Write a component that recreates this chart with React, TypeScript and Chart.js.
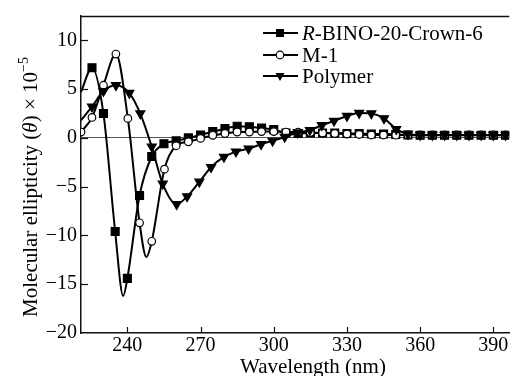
import React, { useEffect, useRef } from 'react';
import { Chart, registerables } from 'chart.js';

Chart.register(...registerables);

// ---- data ----
const xTicks = [240, 270, 300, 330, 360, 390];
const yTicks = [-20, -15, -10, -5, 0, 5, 10];
const yTickLabels = ['\u221220', '\u221215', '\u221210', '\u22125', '0', '5', '10'];
const seriesNames = ['R-BINO-20-Crown-6', 'M-1', 'Polymer'];

const crownWl = [221, 225.5, 230.2, 235, 238.3, 240, 245, 250, 255, 260, 265, 270, 275, 280, 285, 290, 295, 300, 305, 310, 315, 320, 325, 330, 335, 340, 345, 350, 355, 360, 365, 370, 375, 380, 385, 390, 395];
const crownVal = [4.7, 7.2, 2.5, -9.6, -16.2, -14.4, -5.9, -1.9, -0.6, -0.3, 0.0, 0.3, 0.65, 0.95, 1.2, 1.15, 1.0, 0.85, 0.5, 0.45, 0.5, 0.5, 0.5, 0.45, 0.45, 0.4, 0.4, 0.35, 0.3, 0.28, 0.28, 0.28, 0.28, 0.28, 0.28, 0.28, 0.28];
const crownMark = [0, 1, 1, 1, 0, 1, 1, 1, 1, 1, 1, 1, 1, 1, 1, 1, 1, 1, 1, 1, 1, 1, 1, 1, 1, 1, 1, 1, 1, 1, 1, 1, 1, 1, 1, 1, 1];

const m1Wl = [221, 225.5, 230.2, 235.3, 240.2, 245, 247.8, 250, 255.2, 260, 265, 270, 275, 280, 285, 290, 295, 300, 305, 310, 315, 320, 325, 330, 335, 340, 345, 350, 355, 360, 365, 370, 375, 380, 385, 390, 395];
const m1Val = [0.6, 2.1, 5.4, 8.6, 2.0, -8.7, -12.2, -10.6, -3.2, -0.8, -0.4, -0.05, 0.27, 0.45, 0.6, 0.6, 0.65, 0.65, 0.6, 0.6, 0.55, 0.5, 0.45, 0.4, 0.35, 0.3, 0.3, 0.28, 0.3, 0.3, 0.3, 0.3, 0.3, 0.3, 0.3, 0.3, 0.3];
const m1Mark = [1, 1, 1, 1, 1, 1, 0, 1, 1, 1, 1, 1, 1, 1, 1, 1, 1, 1, 1, 1, 1, 1, 1, 1, 1, 1, 1, 1, 1, 1, 1, 1, 1, 1, 1, 1, 1];

const polyWl = [221, 225.5, 230.2, 235.3, 240.8, 245.3, 250, 254.5, 260.2, 264.5, 269.5, 274.3, 279.6, 284.5, 289.7, 294.8, 299.5, 304.5, 309.8, 314.8, 319.7, 324.7, 330, 335, 340, 345.2, 350.2, 355, 360, 365, 370, 375, 380, 385, 390, 395];
const polyVal = [1.8, 3.2, 4.8, 5.4, 4.6, 2.5, -0.9, -4.7, -6.8, -6.0, -4.5, -3.0, -1.95, -1.4, -1.1, -0.65, -0.3, 0.1, 0.55, 0.8, 1.3, 1.75, 2.25, 2.55, 2.5, 2.0, 0.9, 0.4, 0.3, 0.3, 0.3, 0.3, 0.3, 0.3, 0.3, 0.3];
const polyMark = [0, 1, 1, 1, 1, 1, 1, 1, 1, 1, 1, 1, 1, 1, 1, 1, 1, 1, 1, 1, 1, 1, 1, 1, 1, 1, 1, 1, 1, 1, 1, 1, 1, 1, 1, 1];

const FONT = '"Liberation Serif", "Times New Roman", serif';

function makeDataset(label: string, wl: number[], val: number[], mark: number[], style: string, radius: number, fill: string, rotation: number) {
  return {
    label,
    data: wl.map((x, i) => ({ x, y: val[i] })),
    borderColor: '#000',
    borderWidth: 2,
    pointStyle: style,
    rotation,
    pointRotation: rotation,
    pointRadius: mark.map((m) => (m ? radius : 0)),
    pointHoverRadius: 0,
    pointBackgroundColor: fill,
    pointBorderColor: '#000',
    pointBorderWidth: 1.2,
    cubicInterpolationMode: 'monotone',
    fill: false,
  };
}

function drawMarker(ctx: CanvasRenderingContext2D, kind: string, x: number, y: number) {
  ctx.save();
  ctx.fillStyle = '#000';
  ctx.strokeStyle = '#000';
  ctx.lineWidth = 1.2;
  if (kind === 'rect') {
    ctx.fillRect(x - 4, y - 4, 8, 8);
  } else if (kind === 'circle') {
    ctx.beginPath();
    ctx.arc(x, y, 3.8, 0, Math.PI * 2);
    ctx.fillStyle = '#fff';
    ctx.fill();
    ctx.stroke();
  } else {
    ctx.beginPath();
    ctx.moveTo(x - 4.5, y - 3);
    ctx.lineTo(x + 4.5, y - 3);
    ctx.lineTo(x, y + 5);
    ctx.closePath();
    ctx.fill();
  }
  ctx.restore();
}

const decorPlugin = {
  id: 'decor',
  afterDraw(chart: any) {
    const ctx: CanvasRenderingContext2D = chart.ctx;
    const a = chart.chartArea;
    const xs = chart.scales.x;
    const ys = chart.scales.y;
    ctx.save();
    // top frame line
    ctx.strokeStyle = '#111';
    ctx.lineWidth = 1.5;
    ctx.beginPath();
    ctx.moveTo(a.left, a.top + 0.5);
    ctx.lineTo(a.right, a.top + 0.5);
    ctx.stroke();
    // inward tick marks
    ctx.lineWidth = 1.2;
    xTicks.forEach((v) => {
      const px = Math.round(xs.getPixelForValue(v)) + 0.5;
      ctx.beginPath();
      ctx.moveTo(px, a.bottom);
      ctx.lineTo(px, a.bottom - 6);
      ctx.stroke();
    });
    yTicks.forEach((v) => {
      if (v === yTicks[0]) return;
      const py = Math.round(ys.getPixelForValue(v)) + 0.5;
      ctx.beginPath();
      ctx.moveTo(a.left, py);
      ctx.lineTo(a.left + 7, py);
      ctx.stroke();
    });

    // legend
    const rows = [33, 55, 76];
    const kinds = ['rect', 'circle', 'tri'];
    ctx.fillStyle = '#000';
    ctx.textBaseline = 'middle';
    rows.forEach((ry, i) => {
      ctx.strokeStyle = '#000';
      ctx.lineWidth = 2;
      ctx.beginPath();
      ctx.moveTo(263, ry);
      ctx.lineTo(298, ry);
      ctx.stroke();
      drawMarker(ctx, kinds[i], 280, ry);
      ctx.fillStyle = '#000';
      const name = seriesNames[i];
      let tx = 302;
      if (i === 0) {
        ctx.font = 'italic 21px ' + FONT;
        ctx.fillText(name.slice(0, 1), tx, ry + 1);
        tx += ctx.measureText(name.slice(0, 1)).width;
        ctx.font = '21px ' + FONT;
        ctx.fillText(name.slice(1), tx, ry + 1);
      } else {
        ctx.font = '21px ' + FONT;
        ctx.fillText(name, tx, ry + 1);
      }
    });

    // x-axis title
    ctx.textBaseline = 'alphabetic';
    ctx.textAlign = 'center';
    ctx.font = '21px ' + FONT;
    ctx.fillText('Wavelength (nm)', 313, 373);

    // y-axis title (rotated, with italic theta and superscript)
    const parts = [
      { t: 'Molecular ellipticity (', f: '21px ' + FONT, dy: 0 },
      { t: '\u03b8', f: 'italic 21px ' + FONT, dy: 0 },
      { t: ') \u00d7 10', f: '21px ' + FONT, dy: 0 },
      { t: '\u22125', f: '14px ' + FONT, dy: -9 },
    ];
    ctx.textAlign = 'left';
    let total = 0;
    parts.forEach((p) => {
      ctx.font = p.f;
      total += ctx.measureText(p.t).width;
    });
    ctx.translate(36.5, 187);
    ctx.rotate(-Math.PI / 2);
    let px = -total / 2;
    parts.forEach((p) => {
      ctx.font = p.f;
      ctx.fillText(p.t, px, p.dy);
      px += ctx.measureText(p.t).width;
    });
    ctx.restore();
  },
};

export default function App() {
  const ref = useRef<HTMLCanvasElement | null>(null);
  useEffect(() => {
    if (!ref.current) return;
    const chart = new Chart(ref.current, {
      type: 'line',
      data: {
        datasets: [
          makeDataset(seriesNames[2], polyWl, polyVal, polyMark, 'triangle', 5.2, '#000', 180) as any,
          makeDataset(seriesNames[1], m1Wl, m1Val, m1Mark, 'circle', 3.8, '#fff', 0) as any,
          makeDataset(seriesNames[0], crownWl, crownVal, crownMark, 'rect', 5.6, '#000', 0) as any,
        ],
      },
      options: {
        animation: false,
        responsive: false,
        devicePixelRatio: 1,
        layout: { padding: { top: 14, right: 4, left: 0, bottom: 0 } },
        plugins: { legend: { display: false }, tooltip: { enabled: false }, title: { display: false } },
        scales: {
          x: {
            type: 'linear',
            min: 221,
            max: 396.5,
            afterBuildTicks: (s: any) => {
              s.ticks = xTicks.map((v) => ({ value: v }));
            },
            afterFit: (s: any) => {
              s.height = 43;
            },
            grid: { display: false, drawTicks: false },
            border: { display: true, color: '#111', width: 1.5 },
            ticks: {
              color: '#000',
              font: { family: FONT, size: 20 },
              padding: 1,
              maxRotation: 0,
              autoSkip: false,
              callback: (v: any) => String(v),
            },
          },
          y: {
            type: 'linear',
            min: -20,
            max: 12.5,
            afterBuildTicks: (s: any) => {
              s.ticks = yTicks.map((v) => ({ value: v }));
            },
            afterFit: (s: any) => {
              s.width = 81;
            },
            grid: {
              display: true,
              drawTicks: false,
              lineWidth: 1,
              color: (c: any) => (c.tick && c.tick.value === 0 ? '#555' : 'rgba(0,0,0,0)'),
            },
            border: { display: true, color: '#111', width: 1.5 },
            ticks: {
              color: '#000',
              font: { family: FONT, size: 20 },
              padding: 4,
              autoSkip: false,
              callback: (v: any) => {
                const i = yTicks.indexOf(Number(v));
                return i >= 0 ? yTickLabels[i] : '';
              },
            },
          },
        },
      } as any,
      plugins: [decorPlugin],
    });
    return () => chart.destroy();
  }, []);

  return (
    <div style={{ position: 'fixed', left: 0, top: 0, width: 516, height: 376, background: '#fff' }}>
      <canvas ref={ref} width={516} height={376} style={{ display: 'block', width: 516, height: 376 }} />
    </div>
  );
}
